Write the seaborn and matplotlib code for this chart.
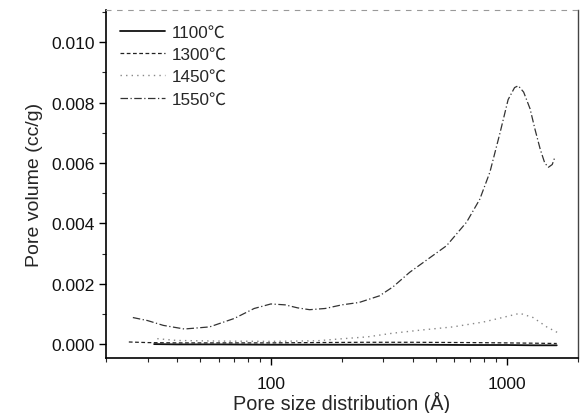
import numpy as np
import pandas as pd
import matplotlib
matplotlib.use("Agg")
import matplotlib.pyplot as plt
from matplotlib.ticker import LogLocator, FixedLocator, MultipleLocator, NullFormatter
import seaborn as sns

sns.set_theme(style="ticks")
plt.rcParams["font.family"] = ["Liberation Sans", "Noto Sans CJK SC", "DejaVu Sans"]

# pore size (Angstrom) and pore volume (cc/g)
x_1100 = [32, 40, 60, 100, 150, 250, 400, 700, 1000, 1300, 1630]
y_1100 = [0.00000, -0.00001, -0.00001, -0.00002, -0.00002, -0.00002,
          -0.00002, -0.00003, -0.00003, -0.00004, -0.00004]

x_1300 = [25, 30, 40, 60, 100, 150, 250, 400, 700, 1000, 1300, 1630]
y_1300 = [0.00007, 0.00005, 0.00004, 0.00004, 0.00004, 0.00005, 0.00006,
          0.00006, 0.00005, 0.00004, 0.00003, 0.00002]

x_1450 = [33, 40, 60, 100, 157, 195, 257, 328, 428, 591, 795, 936,
          1137, 1294, 1478, 1636]
y_1450 = [0.00018, 0.00012, 0.00010, 0.00009, 0.00011, 0.00017, 0.00024,
          0.00036, 0.00046, 0.00057, 0.00073, 0.00086, 0.00102, 0.00088,
          0.00057, 0.00039]

x_1550 = [26, 30, 35, 43, 55, 70, 85, 100, 115, 130, 146, 170, 200, 237,
          289, 330, 388, 470, 556, 676, 769, 849, 937, 1014, 1080, 1120,
          1180, 1256, 1320, 1387, 1450, 1503, 1560, 1605]
y_1550 = [0.00088, 0.00078, 0.00062, 0.00050, 0.00057, 0.00085, 0.00118,
          0.00133, 0.00130, 0.00120, 0.00114, 0.00118, 0.00130, 0.00138,
          0.00160, 0.00190, 0.00238, 0.00285, 0.00326, 0.00404, 0.00480,
          0.00570, 0.00700, 0.00810, 0.00850, 0.00856, 0.00835, 0.00780,
          0.00710, 0.00646, 0.00600, 0.00586, 0.00595, 0.00622]

labels = ["1100℃", "1300℃", "1450℃", "1550℃"]

series = [
    (x_1100, y_1100, "#111111", "-", 1.3),
    (x_1300, y_1300, "#222222", (0, (3, 2)), 0.9),
    (x_1450, y_1450, "#888888", (0, (1, 3)), 1.0),
    (x_1550, y_1550, "#333333", (0, (6, 2, 1, 2)), 0.9),
]

fig = plt.figure(figsize=(5.81, 4.14), dpi=100)
ax = fig.add_axes([0.1824, 0.1329, 0.8119, 0.8405])

for label, (xs, ys, color, ls, lw) in zip(labels, series):
    df = pd.DataFrame({"size": xs, "volume": ys})
    sns.lineplot(data=df, x="size", y="volume", ax=ax, color=color,
                 linestyle=ls, linewidth=lw, label=label, sort=False)

ax.set_xscale("log")
ax.set_xlim(20, 2000)
ax.set_ylim(-0.00046, 0.01107)

ax.xaxis.set_major_locator(FixedLocator([100, 1000]))
ax.xaxis.set_major_formatter(matplotlib.ticker.FixedFormatter(["100", "1000"]))
ax.xaxis.set_minor_locator(LogLocator(base=10, subs=np.arange(2, 10)))
ax.xaxis.set_minor_formatter(NullFormatter())
ax.yaxis.set_major_locator(MultipleLocator(0.002))
ax.yaxis.set_minor_locator(MultipleLocator(0.001))
ax.yaxis.set_major_formatter(matplotlib.ticker.FormatStrFormatter("%.3f"))

ax.tick_params(which="major", direction="out", length=5, width=1,
               labelsize=12.5, color="black", labelcolor="#111111")
ax.tick_params(which="minor", direction="out", length=3, width=0.8)
ax.tick_params(axis="x", which="major", pad=8)
ax.tick_params(axis="y", which="major", pad=3)

ax.set_xlabel("Pore size distribution (Å)", fontsize=14.3, labelpad=0)
ax.set_ylabel("Pore volume (cc/g)", fontsize=14, labelpad=6)

for side in ["left", "bottom"]:
    ax.spines[side].set_color("black")
    ax.spines[side].set_linewidth(1.2)
ax.spines["right"].set_color("#444444")
ax.spines["right"].set_linewidth(1.0)
ax.spines["top"].set_color("#999999")
ax.spines["top"].set_linewidth(0.8)
ax.spines["top"].set_linestyle((0, (4, 6)))

ax.legend(loc="upper left", frameon=False, fontsize=12.3, handlelength=2.6,
          handletextpad=0.4, labelspacing=0.43, borderaxespad=0.45,
          bbox_to_anchor=(0.0, 1.0))

fig.savefig("out.png", dpi=100, facecolor="white")
